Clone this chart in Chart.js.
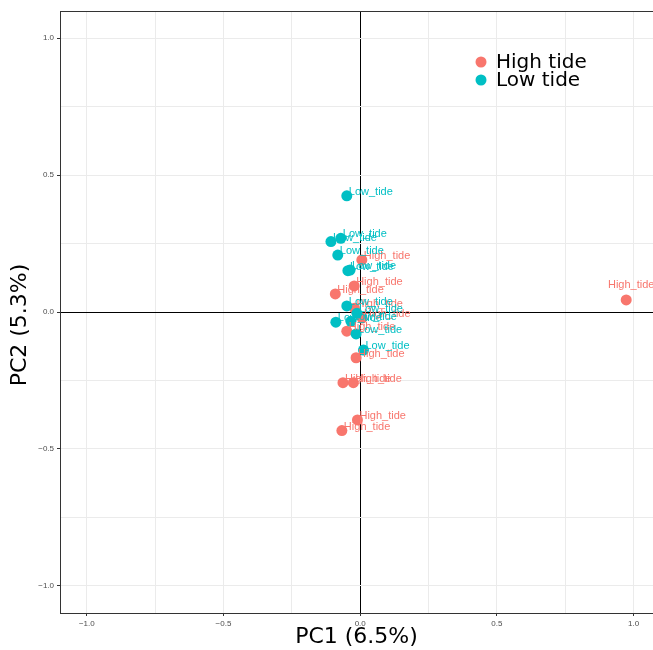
<!DOCTYPE html>
<html>
<head>
<meta charset="utf-8">
<script src="https://cdn.jsdelivr.net/npm/chart.js@4"></script>
<style>
  html, body { margin: 0; padding: 0; background: #fff; }
</style>
</head>
<body>
<canvas id="myChart" width="653" height="650"></canvas>
<script>
// groups and the text each point is labelled with
const groups = ['High tide', 'Low tide'];
const pointText = ['High_tide', 'Low_tide'];

// PCA scores
const highX = [0.006, -0.022, -0.091, -0.021, 0.007, -0.049, -0.015, -0.063, -0.025, -0.010, -0.067, 0.973];
const highY = [0.190, 0.095, 0.066, 0.014, -0.022, -0.070, -0.167, -0.258, -0.258, -0.394, -0.433, 0.044];
const lowX = [-0.049, -0.107, -0.071, -0.082, -0.045, -0.037, -0.049, -0.012, -0.089, -0.034, -0.015, 0.012];
const lowY = [0.424, 0.257, 0.269, 0.208, 0.151, 0.153, 0.022, -0.005, -0.037, -0.034, -0.080, -0.139];

// axis ticks (every 0.25 gets a grid line, every 0.5 a label)
const tickValues = [-1, -0.75, -0.5, -0.25, 0, 0.25, 0.5, 0.75, 1];
const xTitle = 'PC1 (6.5%)';
const yTitle = 'PC2 (5.3%)';

const colors = ['#F8766D', '#00BFC4'];

function toPoints(xs, ys) {
  return xs.map((x, i) => ({ x: x, y: ys[i] }));
}

function isMajor(v) {
  return Math.abs(v * 2 - Math.round(v * 2)) < 1e-9;
}

function tickLabel(v) {
  if (!isMajor(v)) return '';
  const s = Math.abs(v).toFixed(1);
  return v < 0 ? '\u2212' + s : s;
}

const data = {
  datasets: [
    { label: groups[0], text: pointText[0], data: toPoints(highX, highY),
      backgroundColor: colors[0], borderWidth: 0, pointRadius: 5.5, order: 1 },
    { label: groups[1], text: pointText[1], data: toPoints(lowX, lowY),
      backgroundColor: colors[1], borderWidth: 0, pointRadius: 5.5, order: 0 }
  ]
};

// grey border round the panel
const panelBorder = {
  id: 'panelBorder',
  afterDatasetsDraw(chart) {
    const a = chart.chartArea, ctx = chart.ctx;
    ctx.save();
    ctx.strokeStyle = '#333333';
    ctx.lineWidth = 1;
    ctx.strokeRect(Math.round(a.left) + 0.5, Math.round(a.top) + 0.5,
      Math.round(a.right - a.left), Math.round(a.bottom - a.top));
    ctx.restore();
  }
};

// text labels next to each point
const pointLabels = {
  id: 'pointLabels',
  afterDatasetsDraw(chart) {
    const ctx = chart.ctx, a = chart.chartArea;
    ctx.save();
    ctx.beginPath();
    ctx.rect(a.left, a.top, a.right - a.left, a.bottom - a.top);
    ctx.clip();
    ctx.font = '11px "Liberation Sans", Arial, sans-serif';
    ctx.textBaseline = 'middle';
    chart.data.datasets.forEach((ds, di) => {
      const meta = chart.getDatasetMeta(di);
      ctx.fillStyle = ds.backgroundColor;
      meta.data.forEach(pt => {
        const w = ctx.measureText(ds.text).width;
        if (pt.x + 2 + w > a.right) {
          ctx.textAlign = 'center';
          ctx.fillText(ds.text, pt.x + 5, pt.y - 15);
        } else {
          ctx.textAlign = 'left';
          ctx.fillText(ds.text, pt.x + 2, pt.y - 4);
        }
      });
    });
    ctx.restore();
  }
};

// legend sitting inside the panel, top right
const insideLegend = {
  id: 'insideLegend',
  afterDraw(chart) {
    const ctx = chart.ctx, a = chart.chartArea;
    const x0 = a.left + 421, y0 = a.top + 51;
    ctx.save();
    ctx.font = '20px "DejaVu Sans", sans-serif';
    ctx.textBaseline = 'middle';
    ctx.textAlign = 'left';
    chart.data.datasets.forEach((ds, i) => {
      const y = y0 + i * 18;
      ctx.fillStyle = ds.backgroundColor;
      ctx.beginPath();
      ctx.arc(x0, y, 5.5, 0, Math.PI * 2);
      ctx.fill();
      ctx.fillStyle = '#000000';
      ctx.fillText(ds.label, x0 + 15, y + 1);
    });
    ctx.restore();
  }
};

// y axis title, sits a little below the panel's middle like the original
const yAxisTitle = {
  id: 'yAxisTitle',
  afterDraw(chart) {
    const ctx = chart.ctx, a = chart.chartArea;
    ctx.save();
    ctx.translate(20, (a.top + a.bottom) / 2 + 13);
    ctx.rotate(-Math.PI / 2);
    ctx.font = '22px "DejaVu Sans", sans-serif';
    ctx.fillStyle = '#000000';
    ctx.textAlign = 'center';
    ctx.textBaseline = 'middle';
    ctx.fillText(yTitle, 0, 0);
    ctx.restore();
  }
};

function setTicks(scale) {
  scale.ticks = tickValues.map(v => ({ value: v }));
}

const gridOpts = {
  color: c => (c.tick && c.tick.value === 0 ? '#000000' : '#EBEBEB'),
  lineWidth: 1,
  tickLength: 3,
  tickColor: c => (c.tick && isMajor(c.tick.value) ? '#333333' : 'rgba(0,0,0,0)')
};

const tickFont = { family: '"Liberation Sans", Arial, sans-serif', size: 8 };
const titleFont = { family: '"DejaVu Sans", sans-serif', size: 22 };

const config = {
  type: 'scatter',
  data,
  options: {
    responsive: false,
    animation: false,
    devicePixelRatio: 1,
    layout: { autoPadding: false, padding: { top: 11, right: 0, left: 0, bottom: 0 } },
    plugins: { legend: { display: false }, tooltip: { enabled: false } },
    scales: {
      x: {
        type: 'linear', min: -1.098, max: 1.071,
        afterBuildTicks: setTicks,
        afterFit: s => { s.height = 37; s.paddingRight = 0; s.paddingLeft = 0; },
        grid: gridOpts,
        border: { color: '#333333', width: 1 },
        ticks: { autoSkip: false, maxRotation: 0, padding: 3, color: '#4D4D4D', font: tickFont, callback: tickLabel },
        title: { display: true, text: xTitle, color: '#000000', font: titleFont, padding: { top: 0, bottom: 0 } }
      },
      y: {
        type: 'linear', min: -1.099, max: 1.099,
        afterBuildTicks: setTicks,
        afterFit: s => { s.width = 60; },
        grid: gridOpts,
        border: { color: '#333333', width: 1 },
        ticks: { autoSkip: false, padding: 3, color: '#4D4D4D', font: tickFont, callback: tickLabel }
      }
    }
  },
  plugins: [panelBorder, pointLabels, insideLegend, yAxisTitle]
};

var myChart = new Chart(document.getElementById('myChart'), config);
</script>
</body>
</html>
